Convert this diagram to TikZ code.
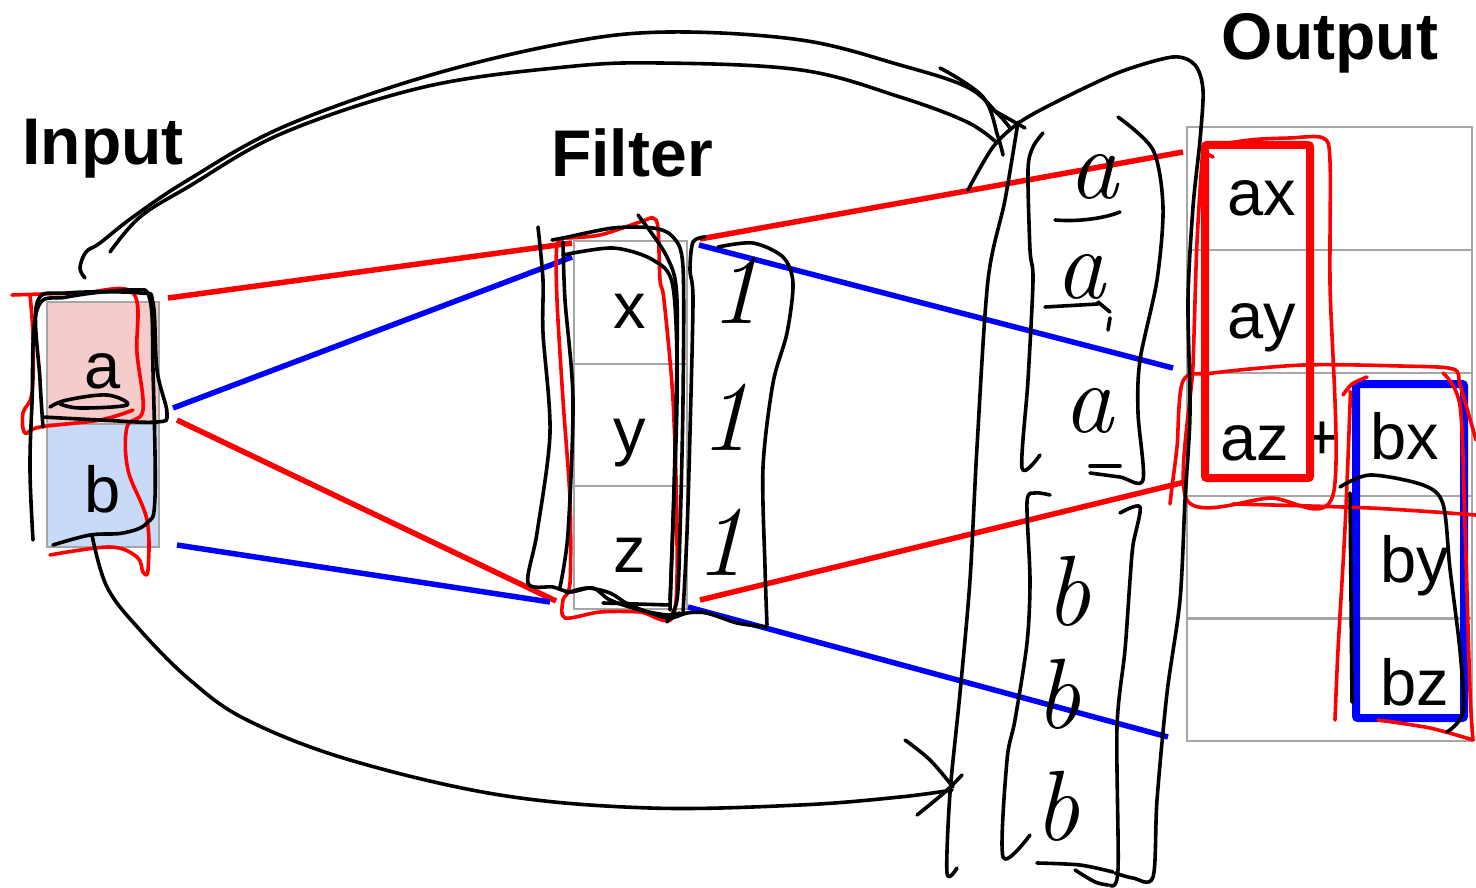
\documentclass[tikz,border=0pt]{standalone}
\usepackage{fontspec}
\setmainfont{Liberation Sans}
\newfontfamily\handfont{Latin Modern Roman}
\definecolor{gridgray}{HTML}{A6A6A6}
\definecolor{pinkfill}{HTML}{F4CCCC}
\definecolor{bluefill}{HTML}{C9DAF8}
\tikzset{
  hand/.style={line width=3.6pt, line cap=round, line join=round},
  handk/.style={hand, draw=black},
  handr/.style={hand, draw=red},
  link/.style={line width=5.5pt},
  gridcell/.style={draw=gridgray, line width=2pt, inner sep=0pt, minimum width=#1},
  celltext/.style={font=\fontsize{65}{65}\selectfont, anchor=base, inner sep=0pt},
  titletext/.style={font=\fontsize{66}{66}\selectfont\bfseries, anchor=base, inner sep=0pt},
  handtext/.style={font=\handfont\itshape\fontsize{100}{100}\selectfont, anchor=base, inner sep=0pt},
  sumbox/.style={line width=8pt, rounded corners=2pt, inner sep=0pt}
}
\begin{document}
\begin{tikzpicture}[x=1pt,y=-1pt]
\useasboundingbox (0,0) rectangle (1476,888);

% ---------- titles ----------
\node[titletext] (tin)  at (103,165) {Input};
\node[titletext] (tfil) at (632,176) {Filter};
\node[titletext] (tout) at (1330,60) {Output};

% ---------- input cells ----------
\node[gridcell=112, minimum height=122, fill=pinkfill] (ina) at (103,363) {};
\node[gridcell=112, minimum height=123, fill=bluefill] (inb) at (103,485.5) {};
\node[celltext] (la) at (103,388) {a};
\node[celltext] (lb) at (103,512) {b};

% ---------- filter cells ----------
\node[gridcell=113, minimum height=122.5] (fx) at (630,302.5) {};
\node[gridcell=113, minimum height=122.5] (fy) at (630,425) {};
\node[gridcell=113, minimum height=122.5] (fz) at (630,547.5) {};
\node[celltext] (lx) at (630,328) {x};
\node[celltext] (ly) at (630,453) {y};
\node[celltext] (lz) at (630,572) {z};

% ---------- output cells ----------
\foreach \r/\cy in {1/188.5, 2/311.5, 3/434.5, 4/557, 5/679.5}
  \node[gridcell=285, minimum height=123] (o\r) at (1329.5,\cy) {};
\node[celltext] (lax) at (1262,215) {ax};
\node[celltext] (lay) at (1262,338) {ay};
\node[celltext] (laz) at (1255,460) {az};
\node[celltext] (lplus) at (1322,459) {+};
\node[celltext] (lbx) at (1405,459) {bx};
\node[celltext] (lby) at (1415,582) {by};
\node[celltext] (lbz) at (1415,705) {bz};
\node[sumbox, draw=red, minimum width=105, minimum height=333] (sa) at (1257.5,311.5) {};
\node[sumbox, draw=blue, minimum width=108, minimum height=334] (sb) at (1410,551) {};

% ---------- connector end points ----------
\coordinate (ra1) at (168,298);  \coordinate (ra2) at (572,243);
\coordinate (ra3) at (700,239);  \coordinate (ra4) at (1183,152);
\coordinate (ba1) at (173,408);  \coordinate (ba2) at (572,257);
\coordinate (ba3) at (699,245);  \coordinate (ba4) at (1173,368);
\coordinate (rb1) at (177,420);  \coordinate (rb2) at (556,601);
\coordinate (rb3) at (700,600);  \coordinate (rb4) at (1185,482);
\coordinate (bb1) at (177,545);  \coordinate (bb2) at (550,602);
\coordinate (bb3) at (688,607);  \coordinate (bb4) at (1168,737);

% ---------- product lines ----------
\draw[link, red]  (ra1) -- (ra2);  \draw[link, red]  (ra3) -- (ra4);
\draw[link, blue] (ba1) -- (ba2);  \draw[link, blue] (ba3) -- (ba4);
\draw[link, red]  (rb1) -- (rb2);  \draw[link, red]  (rb3) -- (rb4);
\draw[link, blue] (bb1) -- (bb2);  \draw[link, blue] (bb3) -- (bb4);

% ---------- handwritten column of copies ----------
\node[handtext] (ha1) at (1093,198) {a};
\node[handtext] (ha2) at (1080,298) {a};
\node[handtext] (ha3) at (1088,432) {a};
\node[handtext] (hb1) at (1068,625) {b};
\node[handtext] (hb2) at (1058,728) {b};
\node[handtext] (hb3) at (1057,840) {b};
\node[handtext] (h11) at (735,323) {1};
\node[handtext] (h12) at (725,450) {1};
\node[handtext] (h13) at (720,575) {1};
\draw[handk] (1055,220) .. controls (1080,222) and (1105,218) .. (1120,212);
\draw[handk] (1045,307) -- (1098,304) (1098,302) -- (1110,312) (1110,318) -- (1108,330);
\draw[handk] (1090,466) -- (1120,466);

% ---------- red marks around input, filter, output ----------
\draw[handr] plot[smooth, tension=0.6] coordinates {(12,295) (80,293) (133,293) (137,353) (143,410) (127,427) (128,470) (147,520) (148,570) (143,572) (137,557) (110,547) (50,555)};
\draw[handr] plot[smooth, tension=0.6] coordinates {(30,295) (33,337) (32,393) (23,413) (25,433) (40,427) (100,420) (133,410)};
\draw[handr] plot[smooth, tension=0.5] coordinates {(567,238) (600,235) (640,222) (653,218) (658,228) (660,280) (664,300) (673,400) (677,533) (673,617) (640,612) (600,612) (565,618) (563,600) (570,583) (570,500) (563,400) (557,300) (557,245) (567,238)};
\draw[handr] plot[smooth, tension=0.5] coordinates {(1213,157) (1204,148) (1250,140) (1290,138) (1323,138) (1330,161) (1330,283) (1333,495) (1270,498) (1187,500) (1193,365) (1197,242) (1203,146)};
\draw[handr] plot[smooth, tension=0.5] coordinates {(1170,504) (1172,487) (1177,447) (1183,381) (1213,373) (1303,365) (1400,366) (1453,369) (1460,385) (1472,426) (1476,440)};
\draw[handr] plot[smooth, tension=0.5] coordinates {(1233,504) (1370,508) (1476,515)};
\draw[handr] plot[smooth, tension=0.5] coordinates {(1343,395) (1352,384) (1367,377)};
\draw[handr] plot[smooth, tension=0.5] coordinates {(1350,392) (1350,406) (1345,528) (1338,650) (1335,720)};
\draw[handr] plot[smooth, tension=0.5] coordinates {(1443,373) (1460,406) (1465,528) (1470,691) (1473,740)};
\draw[handr] plot[smooth, tension=0.5] coordinates {(1378,720) (1430,728) (1473,740)};

% ---------- black marks around the input ----------
\draw[handk] plot[smooth, tension=0.6] coordinates {(43,427) (40,380) (37,303) (67,293) (140,293) (153,303) (157,370) (167,413) (157,422) (100,420) (43,417)};
\draw[handk] plot[smooth, tension=0.6] coordinates {(33,540) (30,470) (32,403) (37,310) (67,297) (133,290) (150,300) (153,370) (155,497) (147,523) (123,533) (90,535) (53,545)};
\draw[handk] plot[smooth, tension=0.6] coordinates {(50,407) (67,400) (107,395) (127,405) (80,408) (60,404)};

% ---------- black marks around the filter ----------
\draw[handk] plot[smooth, tension=0.5] coordinates {(538,227) (543,280) (543,333) (550,433) (537,533) (528,583) (553,587) (570,592) (593,588) (610,600) (640,610) (667,615) (680,613)};
\draw[handk] plot[smooth, tension=0.5] coordinates {(552,240) (563,238) (613,228) (653,228) (673,237) (683,267) (683,400) (680,533) (677,600) (667,622)};
\draw[handk] plot[smooth, tension=0.5] coordinates {(560,587) (568,533) (573,400) (565,300) (563,242)};
\draw[handk] plot[smooth, tension=0.5] coordinates {(563,255) (613,248) (653,260) (673,287) (677,400) (670,600)};
\draw[handk] plot[smooth, tension=0.5] coordinates {(638,215) (667,257) (677,300) (675,450) (670,610)};
\draw[handk] (603,603) -- (670,605);
\draw[handk] plot[smooth, tension=0.5] coordinates {(567,593) (587,588) (610,593) (630,605) (667,618) (687,613) (707,613) (737,623) (767,627)};
\draw[handk] plot[smooth, tension=0.5] coordinates {(705,237) (693,242) (690,270) (693,300) (690,433) (687,533) (683,613)};
\draw[handk] plot[smooth, tension=0.5] coordinates {(718,247) (753,243) (783,257) (793,283) (787,333) (773,383) (763,467) (765,567) (767,625)};

% ---------- arcs from the input to the column of copies ----------
\draw[handk] plot[smooth, tension=0.6] coordinates {(85,278) (80,268) (86,252) (100,243) (133,217) (188,180) (283,127) (424,77) (565,43) (669,32) (801,40) (900,65) (967,87) (997,113) (1010,128)};
\draw[handk] plot[smooth, tension=0.6] coordinates {(110,252) (140,217) (188,187) (283,133) (424,87) (565,67) (660,63) (801,70) (900,97) (967,122) (997,143)};
\draw[handk] plot[smooth, tension=0.6] coordinates {(940,68) (983,97) (998,137) (1003,155)};
\draw[handk] (993,110) -- (1025,128);
\draw[handk] plot[smooth, tension=0.6] coordinates {(92,535) (107,587) (140,630) (190,680) (247,720) (350,760) (500,795) (650,808) (800,805) (900,797) (952,790)};
\draw[handk] plot[smooth, tension=0.6] coordinates {(905,740) (930,760) (953,787)};
\draw[handk] plot[smooth, tension=0.6] coordinates {(917,815) (945,792) (962,775)};

% ---------- black marks around the column of copies ----------
\draw[handk] plot[smooth, tension=0.5] coordinates {(968,190) (993,147) (1020,122) (1060,100) (1120,72) (1173,57) (1195,65) (1203,90) (1200,140) (1193,207) (1188,300) (1190,413) (1185,500) (1180,600) (1167,693) (1157,800) (1153,877) (1133,878) (1115,873)};
\draw[handk] plot[smooth, tension=0.5] coordinates {(1018,122) (1005,200) (988,280) (977,447) (970,580) (960,693) (950,793) (947,873) (957,868)};
\draw[handk] plot[smooth, tension=0.5] coordinates {(1043,133) (1033,147) (1028,170) (1030,250) (1033,280) (1028,380) (1022,468) (1040,455)};
\draw[handk] plot[smooth, tension=0.5] coordinates {(1118,117) (1153,150) (1163,207) (1157,280) (1140,360) (1138,413) (1143,480) (1120,477) (1090,473)};
\draw[handk] plot[smooth, tension=0.5] coordinates {(1050,495) (1035,493) (1027,502) (1030,580) (1027,643) (1015,720) (1007,760) (1003,857) (1030,835)};
\draw[handk] plot[smooth, tension=0.5] coordinates {(1120,513) (1140,507) (1133,545) (1130,580) (1125,650) (1117,727) (1118,870) (1110,885)};
\draw[handk] plot[smooth, tension=0.5] coordinates {(1037,863) (1080,865) (1113,872)};
\draw[handk] plot[smooth, tension=0.5] coordinates {(1075,870) (1095,882) (1108,885)};

% ---------- black marks around the output ----------
\draw[handk] plot[smooth, tension=0.5] coordinates {(1340,487) (1370,475) (1423,485) (1443,504) (1450,569) (1460,651) (1463,712) (1447,732)};
\draw[handk] (1350,493) -- (1352,702);
\end{tikzpicture}
\end{document}
